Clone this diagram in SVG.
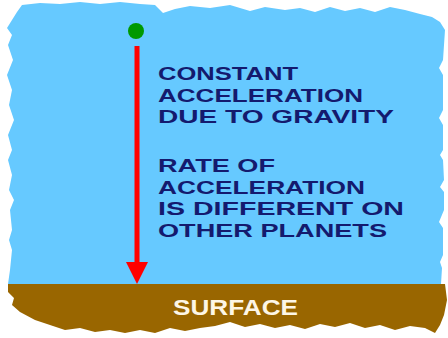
<svg xmlns="http://www.w3.org/2000/svg" width="448" height="338" viewBox="0 0 448 338">
<style>
.lbl{font-family:"Liberation Sans","DejaVu Sans",sans-serif;font-weight:bold;font-size:19px;fill:#141a6e}
.srf{font-family:"Liberation Sans","DejaVu Sans",sans-serif;font-weight:bold;font-size:22px;fill:#fdf6e6}
</style>
<defs>
<filter id="soft" x="-5%" y="-5%" width="110%" height="110%"><feGaussianBlur stdDeviation="0.6"/></filter>
</defs>
<rect width="448" height="338" fill="#ffffff"/>
<g id="sky" filter="url(#soft)">
<path fill="#66c9ff" d="M17,12 L22,5 L40,3 L60,4 L80,2 L100,4 L120,2 L140,4 L155,5 L163,13 L175,9 L190,6 L210,8 L230,5 L250,11 L265,7 L285,10 L300,8 L315,12 L330,7 L345,11 L360,8 L375,12 L390,7 L405,10 L420,14 L432,17 L440,22 L445,30 L443,60 L439,68 L443,75 L443,110 L439,118 L443,125 L443,150 L440,155 L443,160 L444,180 L440,187 L444,192 L444,210 L439,222 L443,228 L443,255 L440,262 L442,268 L441,284 L8,284 L10,270 L12,250 L9,240 L12,230 L10,210 L14,200 L9,190 L12,175 L8,160 L12,150 L8,135 L14,120 L9,105 L12,90 L7,75 L13,60 L8,45 L12,35 L7,28 L12,20 Z"/>
</g>
<g id="ground" filter="url(#soft)">
<path fill="#996600" d="M8,284 L445,284 L447,300 L444,315 L440,325 L435,333 L425,328 L410,326 L395,330 L380,325 L365,328 L350,323 L335,327 L320,324 L305,329 L290,325 L275,328 L260,324 L245,327 L230,322 L215,326 L200,328 L185,331 L170,328 L155,333 L140,330 L125,333 L110,330 L95,332 L80,328 L65,330 L50,325 L35,320 L20,312 L12,305 L14,298 L8,292 Z"/>
</g>
<g id="connectors">
<line x1="137" y1="46" x2="137" y2="264" stroke="#ff0000" stroke-width="5"/>
<polygon points="126,262 148,262 137,284" fill="#ff0000"/>
</g>
<g id="object">
<circle cx="136" cy="31" r="8" fill="#009900"/>
</g>
<g id="label-constant">
<text class="lbl" x="158" y="80" textLength="140" lengthAdjust="spacingAndGlyphs">CONSTANT</text>
<text class="lbl" x="158" y="101.5" textLength="205" lengthAdjust="spacingAndGlyphs">ACCELERATION</text>
<text class="lbl" x="158" y="123" textLength="236" lengthAdjust="spacingAndGlyphs">DUE TO GRAVITY</text>
</g>
<g id="label-rate">
<text class="lbl" x="158" y="172" textLength="117" lengthAdjust="spacingAndGlyphs">RATE OF</text>
<text class="lbl" x="158" y="193.5" textLength="207" lengthAdjust="spacingAndGlyphs">ACCELERATION</text>
<text class="lbl" x="158" y="215" textLength="246" lengthAdjust="spacingAndGlyphs">IS DIFFERENT ON</text>
<text class="lbl" x="158" y="237" textLength="229" lengthAdjust="spacingAndGlyphs">OTHER PLANETS</text>
</g>
<g id="surface">
<text class="srf" x="173" y="315" textLength="125" lengthAdjust="spacingAndGlyphs">SURFACE</text>
</g>
</svg>
